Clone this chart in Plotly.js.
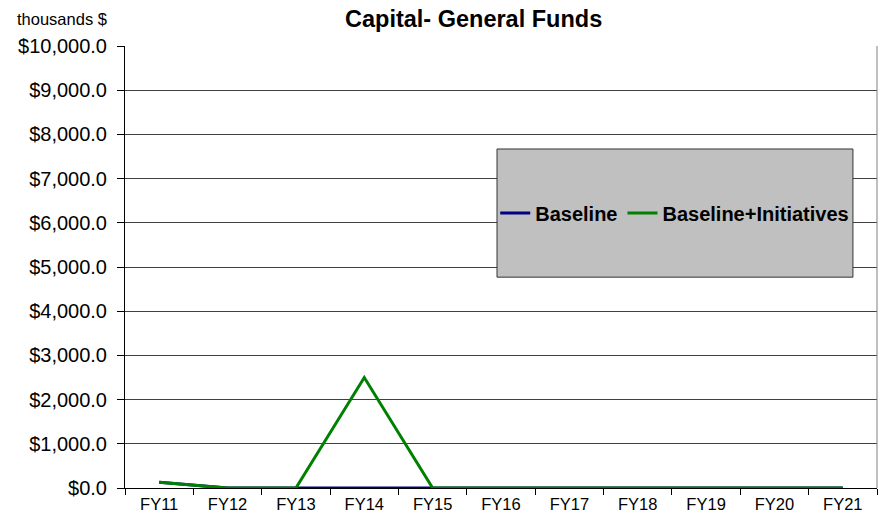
<!DOCTYPE html>
<html>
<head>
<meta charset="utf-8">
<script src="https://cdn.plot.ly/plotly-3.0.1.min.js"></script>
<style>html,body{margin:0;padding:0;background:#fff;}#chart{width:882px;height:522px;}</style>
</head>
<body>
<div id="chart"></div>
<script>
const categories = ["FY11","FY12","FY13","FY14","FY15","FY16","FY17","FY18","FY19","FY20","FY21"];
const baseline = [130, 0, 0, 0, 0, 0, 0, 0, 0, 0, 0];
const baselineInitiatives = [130, 0, 0, 2500, 0, 0, 0, 0, 0, 0, 0];
const yTicks = [0,1000,2000,3000,4000,5000,6000,7000,8000,9000,10000];

const traces = [
  {x: categories, y: baseline, name: "Baseline", type: "scatter", mode: "lines",
   line: {color: "#000080", width: 3}},
  {x: categories, y: baselineInitiatives, name: "Baseline+Initiatives", type: "scatter", mode: "lines",
   line: {color: "#008000", width: 3}}
];

const layout = {
  width: 882, height: 522,
  margin: {l: 125, r: 5, t: 46, b: 34},
  paper_bgcolor: "#ffffff", plot_bgcolor: "#ffffff",
  font: {family: "Liberation Sans, Arial, sans-serif", color: "#000"},
  title: {text: "<b>Capital- General Funds</b>", font: {size: 23.5, family: "Liberation Sans, Arial, sans-serif"},
          xref: "container", x: 0.537, xanchor: "center", yref: "container", y: 1 - 19/522, yanchor: "middle"},
  xaxis: {type: "category", range: [-0.5, 10.5], showgrid: false, zeroline: false,
          showline: true, linecolor: "#000", linewidth: 1,
          ticks: "outside", tickson: "boundaries", ticklen: 6, tickcolor: "#000",
          tickfont: {size: 16.5}, ticklabelstandoff: 1},
  yaxis: {range: [0, 10000], tickvals: yTicks, tickformat: "$,.1f",
          showgrid: true, gridcolor: "#404040", gridwidth: 1, zeroline: false,
          showline: true, linecolor: "#000", linewidth: 1,
          ticks: "outside", ticklen: 7, tickcolor: "#000", tickfont: {size: 20},
          ticklabelstandoff: 6},
  showlegend: true,
  legend: {orientation: "h", x: 0.731, y: 0.622, xanchor: "center", yanchor: "middle",
           bgcolor: "rgba(0,0,0,0)", borderwidth: 0,
           font: {size: 20, family: "Liberation Sans, Arial, sans-serif", weight: "bold"},
           itemwidth: 30, tracegroupgap: 0},
  shapes: [
    {type: "rect", xref: "paper", yref: "paper", x0: 0.4947, x1: 0.968, y0: 0.477, y1: 0.767,
     fillcolor: "#C0C0C0", line: {color: "#333", width: 1}, layer: "above"},
    {type: "line", xref: "paper", yref: "paper", x0: 1, x1: 1, y0: 0, y1: 1,
     line: {color: "#808080", width: 1}}
  ],
  annotations: [
    {text: "thousands $", xref: "paper", yref: "paper", x: -0.1463, y: 1.061, xanchor: "left", yanchor: "middle",
     showarrow: false, font: {size: 16.5}}
  ]
};
Plotly.newPlot("chart", traces, layout, {displayModeBar: false, staticPlot: true});
</script>
</body>
</html>
